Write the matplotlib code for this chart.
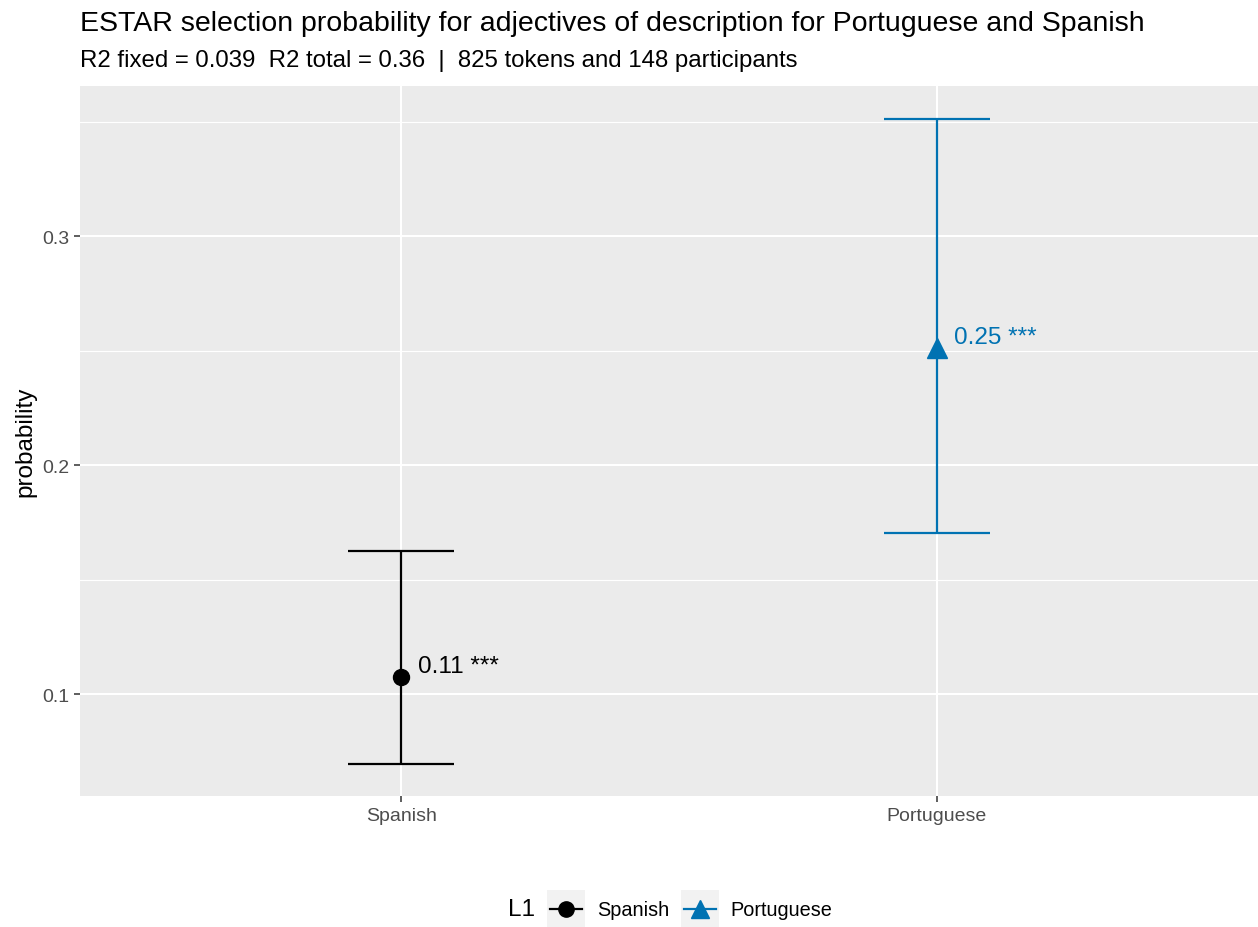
import matplotlib
matplotlib.use("Agg")
import matplotlib.pyplot as plt
from matplotlib.lines import Line2D
from matplotlib.patches import Rectangle
from matplotlib.legend_handler import HandlerBase

plt.rcParams['font.family'] = ['Liberation Sans', 'DejaVu Sans']

# --- Data ---
groups = ["Spanish", "Portuguese"]
estimates = [0.1075, 0.2510]
ci_low = [0.0695, 0.1705]
ci_high = [0.1625, 0.3510]
labels = ["0.11 ***", "0.25 ***"]
colors = ["#000000", "#0072B2"]
markers = ["o", "^"]

title = "ESTAR selection probability for adjectives of description for Portuguese and Spanish"
subtitle = "R2 fixed = 0.039  R2 total = 0.36  |  825 tokens and 148 participants"

# --- Plot ---
fig = plt.figure(figsize=(12.58, 9.28), dpi=100)
ax = fig.add_axes([80 / 1258, 1 - 797 / 928, 1178 / 1258, 710 / 928])
ax.set_facecolor("#EBEBEB")
for s in ax.spines.values():
    s.set_visible(False)

xs = list(range(len(groups)))
for i, g in enumerate(groups):
    ax.errorbar(xs[i], estimates[i],
                yerr=[[estimates[i] - ci_low[i]], [ci_high[i] - estimates[i]]],
                fmt=markers[i], color=colors[i], ms=11.5 if markers[i] == "o" else 14,
                elinewidth=1.6, capsize=38.5, capthick=1.6, zorder=3)
    ax.text(xs[i] + 0.032, estimates[i], labels[i], color=colors[i],
            fontsize=17.5, va="bottom", ha="left", zorder=4)

ax.set_xlim(-0.6, 1.6)
ax.set_ylim(0.0555, 0.3655)
ax.set_xticks(xs)
ax.set_xticklabels(groups)
ax.set_yticks([0.1, 0.2, 0.3])
ax.set_yticklabels(["0.1", "0.2", "0.3"])
ax.set_yticks([0.15, 0.25, 0.35], minor=True)
ax.grid(True, which="major", color="white", linewidth=1.5, zorder=0)
ax.grid(True, which="minor", axis="y", color="white", linewidth=0.8, zorder=0)
ax.set_axisbelow(True)
ax.tick_params(axis="both", which="major", length=4, width=1.1, color="#333333",
               labelsize=14, labelcolor="#4D4D4D", pad=4)
ax.tick_params(axis="y", which="minor", length=0)
ax.set_ylabel("probability", fontsize=17.5, labelpad=4)

fig.text(80 / 1258, 1 - 24 / 928, title, fontsize=20.5, va="center", ha="left")
fig.text(80 / 1258, 1 - 61 / 928, subtitle, fontsize=17.3, va="center", ha="left")


class KeyHandler(HandlerBase):
    def create_artists(self, legend, orig_handle, xdescent, ydescent,
                       width, height, fontsize, trans):
        cy = height / 2 - ydescent
        bg = Rectangle((-xdescent, cy - width / 2), width, width,
                       facecolor="#F2F2F2", edgecolor="none", transform=trans)
        ln = Line2D([-xdescent + 2, -xdescent + width - 2], [cy, cy],
                    color=orig_handle.get_color(), lw=1.6, transform=trans)
        mk = Line2D([width / 2 - xdescent], [cy],
                    marker=orig_handle.get_marker(), color=orig_handle.get_color(),
                    ms=11 if orig_handle.get_marker() == "o" else 13,
                    ls="none", transform=trans)
        return [bg, ln, mk]


handles = [Line2D([], [], color=c, marker=m) for c, m in zip(colors, markers)]
fig.text(508 / 1258, 1 - 910 / 928, "L1", fontsize=17.5, va="center", ha="left")
leg = fig.legend(handles, groups, loc="center left",
                 bbox_to_anchor=(547 / 1258, 1 - 910 / 928), ncol=2,
                 frameon=False, fontsize=14.3, handler_map={Line2D: KeyHandler()},
                 handlelength=1.91, handleheight=1.2, handletextpad=0.6,
                 columnspacing=0.6, borderaxespad=0, borderpad=0)

fig.savefig("out.png", dpi=100)
